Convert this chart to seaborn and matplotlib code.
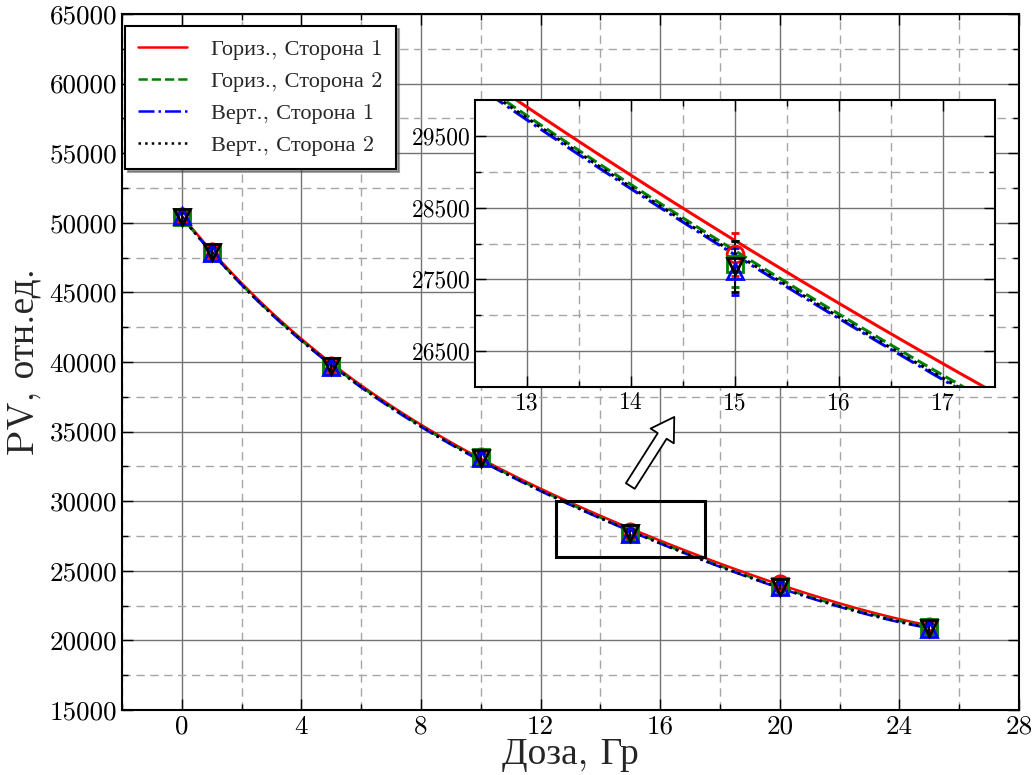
import matplotlib
matplotlib.use("Agg")
import matplotlib.pyplot as plt
import matplotlib.patches as mpatches
from matplotlib.ticker import MultipleLocator, FixedLocator, FuncFormatter
import pandas as pd
import seaborn as sns

# Доза, Гр
dose = [0, 1, 5, 10, 15, 20, 25]

# PV (отн. ед.) for each orientation / side
pv_h1 = [50500, 48000, 39800, 33250, 27850, 24100, 21050]
pv_h2 = [50400, 47900, 39700, 33150, 27710, 23920, 20950]
pv_v1 = [50450, 47850, 39650, 33120, 27610, 23870, 20850]
pv_v2 = [50400, 47900, 39700, 33120, 27680, 23870, 20900]

# standard deviations
err_h1 = [300, 300, 300, 300, 300, 300, 300]
err_h2 = [320, 320, 320, 320, 320, 320, 320]
err_v1 = [330, 330, 330, 330, 330, 330, 330]
err_v2 = [350, 350, 350, 350, 350, 350, 350]

labels = ["Гориз., Сторона 1", "Гориз., Сторона 2",
          "Верт., Сторона 1", "Верт., Сторона 2"]

sns.set_theme(style="white")
plt.rcParams["font.family"] = ["cmr10", "Liberation Serif"]
plt.rcParams["axes.formatter.use_mathtext"] = False
plt.rcParams["axes.unicode_minus"] = False

series = [
    (pv_h1, err_h1, "red", "-", "o"),
    (pv_h2, err_h2, "green", "--", "s"),
    (pv_v1, err_v1, "blue", "-.", "^"),
    (pv_v2, err_v2, "black", ":", "v"),
]

fig = plt.figure(figsize=(10.36, 7.75), dpi=100)
ax = fig.add_axes([0.1178, 0.0839, 0.8658, 0.8981])

zoom_x = (12.5, 17.5)
zoom_y = (26000, 30000)


def style_axes(a, fs):
    a.set_facecolor("white")
    a.xaxis.set_major_formatter(FuncFormatter(lambda v, p: f"{int(round(v))}"))
    a.yaxis.set_major_formatter(FuncFormatter(lambda v, p: f"{int(round(v))}"))
    a.grid(True, which="major", color="0.45", lw=1.0, ls="-")
    a.grid(True, which="minor", color="0.65", lw=1.0, ls=(0, (6, 4)))
    a.set_axisbelow(True)
    a.tick_params(which="both", direction="in", top=True, right=True,
                  bottom=True, left=True, color="black", labelsize=fs,
                  labelcolor="black")
    a.tick_params(which="major", length=8, width=1)
    a.tick_params(which="minor", length=4, width=1)
    for s in a.spines.values():
        s.set_color("black")
        s.set_linewidth(1.5)


def draw_series(a, lw, ms):
    handles = []
    for (vals, errs, col, ls, mk), lab in zip(series, labels):
        df = pd.DataFrame({"dose": dose, "pv": vals})
        sns.regplot(data=df, x="dose", y="pv", order=4, ci=None,
                    scatter=False, ax=a, label=lab,
                    line_kws=dict(color=col, ls=ls, lw=lw))
        handles.append(a.lines[-1])
        a.errorbar(dose, vals, yerr=errs, fmt=mk, color=col, mfc="none",
                   mec=col, mew=2.0, ms=ms, capsize=3, elinewidth=1.3,
                   capthick=2, zorder=4)
    return handles


handles = draw_series(ax, 1.8, 11)
style_axes(ax, 19.5)
ax.xaxis.set_major_locator(MultipleLocator(4))
ax.xaxis.set_minor_locator(MultipleLocator(2))
ax.yaxis.set_major_locator(MultipleLocator(5000))
ax.yaxis.set_minor_locator(MultipleLocator(2500))
ax.set_xlim(-2, 28)
ax.set_ylim(15000, 65000)
ax.set_xlabel("Доза, Гр", fontsize=27, labelpad=0)
ax.set_ylabel("PV, отн.ед.", fontsize=27, labelpad=6)

# region shown enlarged in the inset
ax.add_patch(mpatches.Rectangle((zoom_x[0], zoom_y[0]),
                                zoom_x[1] - zoom_x[0], zoom_y[1] - zoom_y[0],
                                fill=False, ec="black", lw=2.2, zorder=5))
ax.annotate("", xy=(16.47, 36050), xytext=(15.0, 31090),
            arrowprops=dict(arrowstyle="simple,head_length=0.9,head_width=1.1,tail_width=0.42",
                            fc="white", ec="black", lw=1.3, shrinkA=0, shrinkB=0,
                            mutation_scale=18), zorder=6)

leg = ax.legend(handles=handles, labels=labels, loc="upper left",
                bbox_to_anchor=(0.003, 0.983), borderaxespad=0,
                fontsize=16, frameon=True, fancybox=False, shadow=True,
                framealpha=1, edgecolor="black", handlelength=2.2,
                labelspacing=0.52, handletextpad=1.1, borderpad=0.6)
leg.get_frame().set_linewidth(1.5)
leg.set_zorder(10)

# inset
axin = fig.add_axes([0.4585, 0.5006, 0.5019, 0.3704])
draw_series(axin, 2.2, 12)
style_axes(axin, 17)
axin.set_xlim(*zoom_x)
axin.set_ylim(*zoom_y)
axin.yaxis.set_major_locator(FixedLocator([26500, 27500, 28500, 29500]))
axin.yaxis.set_minor_locator(FixedLocator([27000, 28000, 29000]))
axin.xaxis.set_major_locator(FixedLocator([13, 14, 15, 16, 17]))
axin.xaxis.set_minor_locator(FixedLocator([13.5, 14.5, 15.5, 16.5]))
axin.set_xlabel("")
axin.set_ylabel("")

fig.savefig("out.png", dpi=100)
